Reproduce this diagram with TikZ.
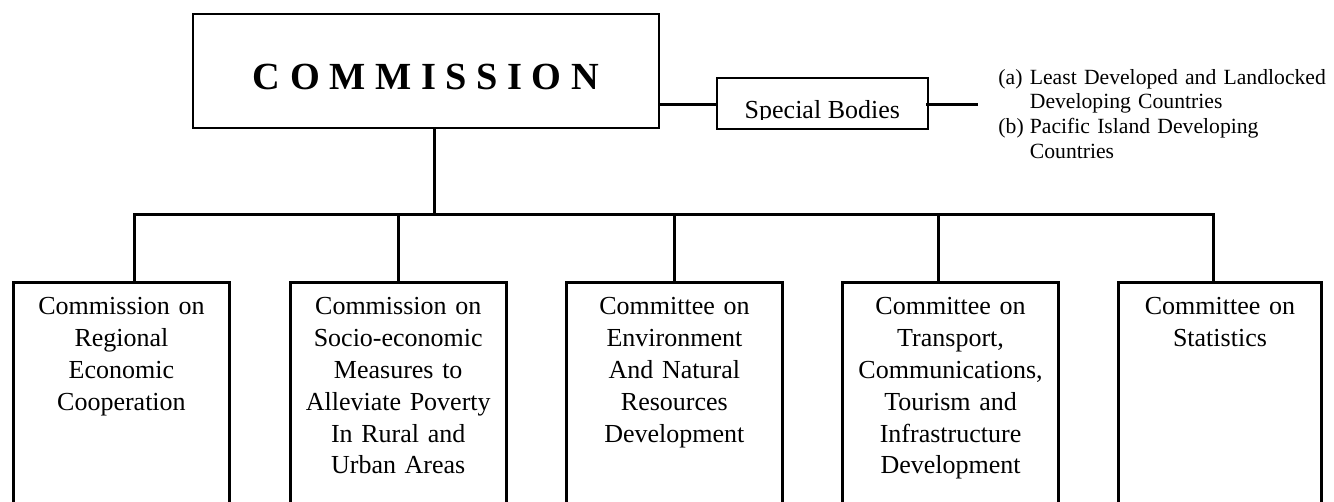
\documentclass[tikz,border=0pt]{standalone}
\usepackage{fontspec}
\setmainfont{Liberation Serif}

\begin{document}
\begin{tikzpicture}[
        line cap=rect,
        % Styles
        headbox/.style={rectangle, draw=black, line width=0.9pt, minimum width=7.56cm, minimum height=1.85cm,
            text height=0.6cm, text depth=0pt, font=\fontsize{17.7}{20}\selectfont\bfseries},
        bodybox/.style={rectangle, draw=none, minimum width=3.41cm, minimum height=0.81cm,
            text height=0.5cm, text depth=0pt, font=\fontsize{12}{14.7}\selectfont},
        bodyframe/.style={draw=black, line width=0.9pt},
        listtext/.style={anchor=north west, inner sep=0pt, text width=5.6cm, align=left,
            text height=0.25cm, font=\fontsize{10}{11.4}\selectfont},
        unitbox/.style={rectangle, draw=black, line width=1.4pt, anchor=north, minimum width=3.51cm,
            text width=3.05cm, align=center, inner xsep=0.1cm, inner ysep=0.224cm,
            text height=0.3cm, text depth=5cm, font=\fontsize{12}{14.7}\selectfont},
        link/.style={draw=black, line width=1.4pt}
    ]

    % --- Page ---
    \useasboundingbox (0,0) rectangle (21.64,8.14);
    \clip (0,0) rectangle (21.64,8.14);

    % --- 1. Commission and special bodies ---
    \node[headbox] (commission) at (6.91,6.985) {C O M M I S S I O N};

    % text sits low in the box, its descenders are cut off
    \begin{scope}
        \clip (11.6,6.205) rectangle (15.1,6.9);
        \node[bodybox] (special) at (13.34,6.461) {Special Bodies};
    \end{scope}
    \draw[bodyframe] (special.south west) rectangle (special.north east);

    \node[listtext] (bodylist) at (16.19,7.03)
        {\makebox[1.45em][l]{(a)}Least Developed and Landlocked\\
         \hspace*{1.45em}Developing Countries\\
         \makebox[1.45em][l]{(b)}Pacific Island Developing\\
         \hspace*{1.45em}Countries};

    % --- 2. Committees (boxes run on past the bottom edge) ---
    \node[unitbox] (regional) at (1.97,3.585)
        {Commission on\\ Regional\\ Economic\\ Cooperation};
    \node[unitbox] (poverty) at (6.46,3.585)
        {Commission on\\ Socio-economic\\ Measures to\\ Alleviate Poverty\\ In Rural and\\ Urban Areas};
    \node[unitbox] (environment) at (10.94,3.585)
        {Committee on\\ Environment\\ And Natural\\ Resources\\ Development};
    \node[unitbox] (transport) at (15.42,3.585)
        {Committee on\\ Transport,\\ Communications,\\ Tourism and\\ Infrastructure\\ Development};
    \node[unitbox, minimum width=3.28cm] (statistics) at (19.79,3.585)
        {Committee on\\ Statistics};

    % --- 3. Connectors ---
    \coordinate (hub) at (7.05,4.655);    % where the stub meets the bus
    \coordinate (tail) at (15.84,6.44);   % free end right of special bodies

    \draw[link] (commission.east |- tail) -- (special.west |- tail);
    \draw[link] (special.east |- tail) -- (tail);
    \draw[link] (commission.south -| hub) -- (hub);

    \foreach \cname/\x in {regional/2.18, poverty/6.46, environment/10.94, transport/15.22, statistics/19.69} {
        \coordinate (\cname-top) at (\x,4.655);
        \draw[link] (\cname-top) -- (\cname-top |- \cname.north);
    }
    \draw[link] (regional-top) -- (statistics-top);

\end{tikzpicture}
\end{document}
